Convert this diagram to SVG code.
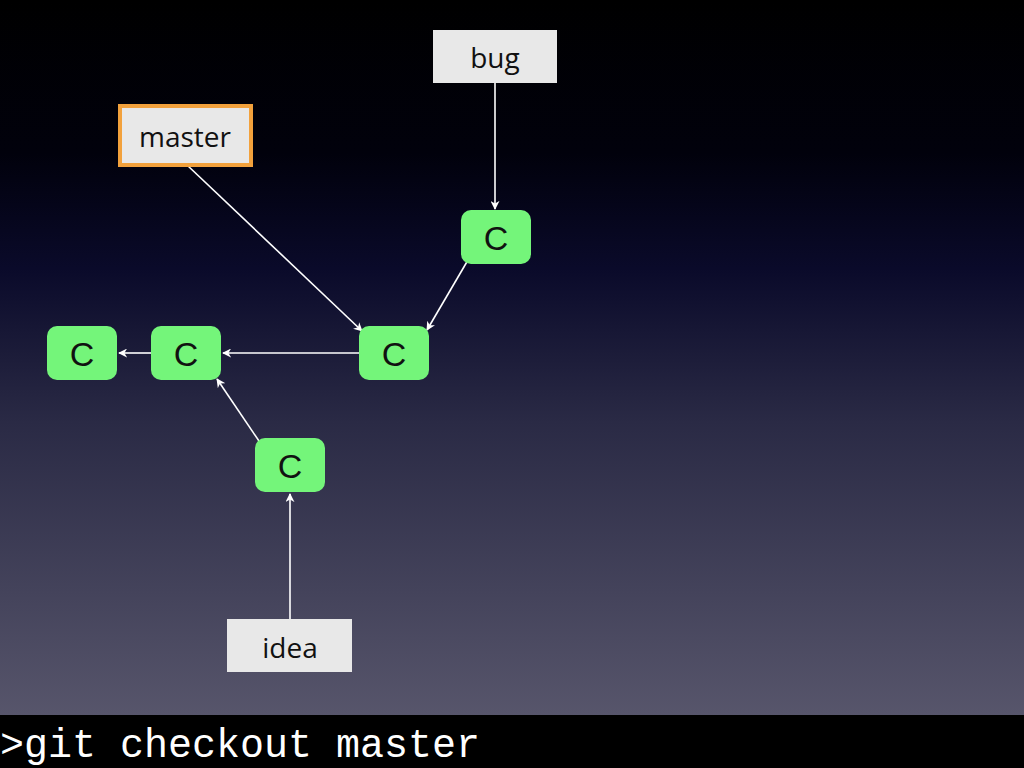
<svg xmlns="http://www.w3.org/2000/svg" width="1024" height="768" viewBox="0 0 1024 768">
<defs>
<linearGradient id="bg" x1="0" y1="0" x2="0" y2="1">
<stop offset="0" stop-color="#000000"/>
<stop offset="0.2" stop-color="#01010c"/>
<stop offset="0.35" stop-color="#0a0a2a"/>
<stop offset="0.55" stop-color="#2a2a45"/>
<stop offset="1" stop-color="#5f5d72"/>
</linearGradient>
<marker id="ah" viewBox="0 0 10 10" refX="9" refY="5" markerWidth="9" markerHeight="9" markerUnits="userSpaceOnUse" orient="auto">
<path d="M0,0 L10,5 L0,10 L3,5 Z" fill="#fff"/>
</marker>
<style>
.c rect{fill:#74f57a;}
.c text{font-family:"Liberation Sans",sans-serif;font-size:34px;fill:#111;text-anchor:middle;}
.l rect{fill:#e8e8e8;}
.l text{font-family:"Open Sans","Liberation Sans",sans-serif;font-size:28px;fill:#111;text-anchor:middle;}
.e line{stroke:#fff;stroke-width:1.6;marker-end:url(#ah);}
</style>
</defs>
<rect width="1024" height="768" fill="url(#bg)"/>
<g class="e" id="connectors">
<line x1="495" y1="83" x2="495" y2="209"/>
<line x1="187" y1="165" x2="362" y2="331"/>
<line x1="468" y1="260" x2="427" y2="330"/>
<line x1="359" y1="353" x2="223" y2="353"/>
<line x1="151" y1="353" x2="119" y2="353"/>
<line x1="259" y1="441" x2="217" y2="379"/>
<line x1="290" y1="619" x2="290" y2="494"/>
</g>
<g id="c1" class="c"><rect x="47" y="326" width="70" height="54" rx="10"/><text x="82" y="366">C</text></g>
<g id="c2" class="c"><rect x="151" y="326" width="70" height="54" rx="10"/><text x="186" y="366">C</text></g>
<g id="c3" class="c"><rect x="359" y="326" width="70" height="54" rx="10"/><text x="394" y="366">C</text></g>
<g id="c4" class="c"><rect x="461" y="210" width="70" height="54" rx="10"/><text x="496" y="250">C</text></g>
<g id="c5" class="c"><rect x="255" y="438" width="70" height="54" rx="10"/><text x="290" y="478">C</text></g>
<g id="bug" class="l"><rect x="433" y="30" width="124" height="53"/><text x="495" y="68">bug</text></g>
<g id="master" class="l"><rect x="120" y="106" width="131" height="59" stroke="#f2a13c" stroke-width="4"/><text x="185" y="147">master</text></g>
<g id="idea" class="l"><rect x="227" y="619" width="125" height="53"/><text x="290" y="658">idea</text></g>
<rect x="0" y="715" width="1024" height="53" fill="#000"/>
<text x="0" y="757" font-family="Liberation Mono,monospace" font-size="40" fill="#fff">&gt;git checkout master</text>
</svg>
